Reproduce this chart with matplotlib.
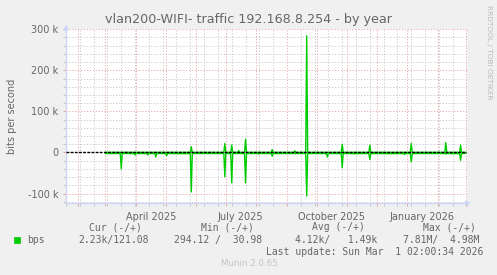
import numpy as np
import pandas as pd
import matplotlib
matplotlib.use("Agg")
import matplotlib.pyplot as plt
from matplotlib.patches import Rectangle

# daily samples (k bits/s); "in" is drawn below zero
days = ["2025-03-01", "2025-03-10", "2025-03-16", "2025-03-17", "2025-03-18",
        "2025-03-30", "2025-03-31", "2025-04-01", "2025-04-12", "2025-04-13",
        "2025-04-14", "2025-04-20", "2025-04-21", "2025-04-22", "2025-05-01",
        "2025-05-02", "2025-05-03", "2025-05-14", "2025-05-26", "2025-05-27",
        "2025-05-28", "2025-06-12", "2025-06-29", "2025-06-30", "2025-07-01",
        "2025-07-06", "2025-07-07", "2025-07-08", "2025-07-13", "2025-07-14",
        "2025-07-15", "2025-07-20", "2025-07-21", "2025-07-22", "2025-08-02",
        "2025-08-03", "2025-08-04", "2025-08-16", "2025-08-17", "2025-08-18",
        "2025-09-08", "2025-09-09", "2025-09-10", "2025-09-20", "2025-09-21",
        "2025-09-22", "2025-10-11", "2025-10-12", "2025-10-13", "2025-10-26",
        "2025-10-27", "2025-10-28", "2025-11-10", "2025-11-23", "2025-11-24",
        "2025-11-25", "2025-12-15", "2025-12-28", "2025-12-29", "2025-12-30",
        "2026-01-04", "2026-01-05", "2026-01-06", "2026-01-25", "2026-02-08",
        "2026-02-09", "2026-02-10", "2026-02-17", "2026-02-23", "2026-02-24",
        "2026-02-25", "2026-03-01"]
bps_in = [2.5, 2.5, 2.5, 40, 2.5,
          2.5, 6, 2.5, 2.5, 6,
          2.5, 2.5, 11, 2.5, 2.5,
          8, 2.5, 3, 2.5, 96,
          2.5, 2.5, 2.5, 59, 2.5,
          2.5, 74, 2.5, 2.5, 2,
          2.5, 2.5, 74, 2.5, 2.5,
          4, 2.5, 2.5, 9, 2.5,
          2.5, 3, 2.5, 2.5, 106,
          2.5, 2.5, 11, 2.5, 2.5,
          37, 2.5, 3, 2.5, 17,
          2.5, 3, 2.5, 5, 2.5,
          2.5, 23, 2.5, 2.5, 2.5,
          4, 2.5, 3, 2.5, 19,
          2.5, 2.23]
bps_out = [0.3, 0.3, 0.3, 0.3, 0.3,
           0.3, 0.3, 0.3, 0.3, 0.3,
           0.3, 0.3, 0.3, 0.3, 0.3,
           0.3, 0.3, 0.3, 0.3, 14,
           0.3, 0.3, 0.3, 22, 0.3,
           0.3, 18, 0.3, 0.3, 5,
           0.3, 0.3, 32, 0.3, 0.3,
           0.3, 0.3, 0.3, 7, 0.3,
           0.3, 4, 0.3, 0.3, 284,
           0.3, 0.3, 0.3, 0.3, 0.3,
           20, 0.3, 0.3, 0.3, 18,
           0.3, 0.3, 0.3, 0.3, 0.3,
           0.3, 22, 0.3, 0.3, 0.3,
           24, 0.3, 0.3, 0.3, 18,
           0.3, 0.12]

quarter_labels = ["April 2025", "July 2025", "October 2025", "January 2026"]
quarter_mid = ["2025-04-16", "2025-07-16", "2025-10-16", "2026-01-16"]

title = "vlan200-WIFI- traffic 192.168.8.254 - by year"
legend_head = ["Cur (-/+)", "Min (-/+)", "Avg (-/+)", "Max (-/+)"]
legend_vals = ["2.23k/121.08", "294.12 /  30.98", "4.12k/   1.49k", "7.81M/  4.98M"]
last_update = "Last update: Sun Mar  1 02:00:34 2026"

W, H = 497, 275
BACK = "#f0f0f0"
FONT = "#666666"
AXIS = "#cfd6f8"
GREEN = "#00cc00"
GRID = "#c4c4c4"
MGRID = "#eba0a0"

def fx(px): return px / W
def fy(py): return 1 - py / H

fig = plt.figure(figsize=(W / 100, H / 100), dpi=100, facecolor=BACK)
ax = fig.add_axes([fx(66), fy(203), fx(467) - fx(66), fy(29) - fy(203)])
ax.set_facecolor("white")

t = pd.to_datetime(days)
ax.plot(t, -np.array(bps_in) * 1000, color=GREEN, lw=1.0, zorder=3)
ax.plot(t, np.array(bps_out) * 1000, color=GREEN, lw=1.0, zorder=3)
ax.axhline(0, color="black", lw=1.0, ls=(0, (2, 1)), zorder=4)

ax.set_xlim(pd.Timestamp("2025-01-26 12:00"), pd.Timestamp("2026-03-02 12:00"))
ax.set_ylim(-123000, 300500)

# grid
months = pd.date_range("2025-02-01", "2026-03-01", freq="MS")
biweek = pd.date_range("2025-01-20", "2026-03-09", freq="2W-MON")
ax.set_xticks(months)
ax.set_xticks(biweek, minor=True)
ax.set_xticklabels([])
ax.set_yticks(np.arange(-100000, 300001, 100000))
ax.set_yticks(np.arange(-120000, 300001, 20000), minor=True)
ax.yaxis.set_major_formatter(plt.FuncFormatter(
    lambda v, p: "0" if v == 0 else f"{int(v / 1000)} k"))
ax.grid(True, which="minor", color=GRID, lw=0.6, ls=(0, (1.5, 2)))
ax.grid(True, which="major", color=MGRID, lw=0.6, ls=(0, (1.5, 2)))
ax.set_axisbelow(True)
ax.tick_params(which="major", length=2.5, width=0.7, color=MGRID,
               labelsize=7, labelcolor=FONT, pad=3)
ax.tick_params(which="minor", length=2, width=0.7, color=GRID)

for s in ["top", "right"]:
    ax.spines[s].set_visible(False)
for s in ["left", "bottom"]:
    ax.spines[s].set_color(AXIS)
    ax.spines[s].set_linewidth(1.0)
ax.annotate("", xy=(1.017, 0), xytext=(0.99, 0), xycoords="axes fraction",
            arrowprops=dict(arrowstyle="-|>", color=AXIS, lw=1.0, mutation_scale=7))
ax.annotate("", xy=(0, 1.04), xytext=(0, 0.99), xycoords="axes fraction",
            arrowprops=dict(arrowstyle="-|>", color=AXIS, lw=1.0, mutation_scale=7))

for lab, d in zip(quarter_labels, quarter_mid):
    ax.text(pd.Timestamp(d), -0.05, lab, transform=ax.get_xaxis_transform(),
            ha="center", va="top", fontsize=7, color=FONT)

fig.text(fx(12), fy(116), "bits per second", rotation=90, ha="center", va="center",
         fontsize=7, color=FONT)
fig.text(fx(249), fy(19), title, ha="center", va="center", fontsize=9.2, color=FONT)
fig.text(fx(489), fy(5), "RRDTOOL / TOBI OETIKER", rotation=270, ha="center", va="top",
         fontsize=5.3, color="#bbbbbb")

mono = "DejaVu Sans Mono"
for txt, x in zip(legend_head, [89, 201, 312, 423]):
    fig.text(fx(x), fy(227), txt, ha="left", va="center", fontsize=7, color=FONT, family=mono)
fig.patches.append(Rectangle((fx(14), fy(243)), fx(6), fy(237) - fy(243),
                             transform=fig.transFigure, facecolor=GREEN, edgecolor=GREEN, lw=0.5))
fig.text(fx(27), fy(240), "bps", ha="left", va="center", fontsize=7, color=FONT, family=mono)
for txt, x in zip(legend_vals, [78, 174, 295, 403]):
    fig.text(fx(x), fy(240), txt, ha="left", va="center", fontsize=7, color=FONT, family=mono)
fig.text(fx(483), fy(252), last_update, ha="right", va="center", fontsize=7, color=FONT, family=mono)
fig.text(fx(249), fy(264), "Munin 2.0.65", ha="center", va="center", fontsize=6.3, color="#c4c4c4")

fig.savefig("out.png", dpi=100, facecolor=BACK)
plt.close(fig)
